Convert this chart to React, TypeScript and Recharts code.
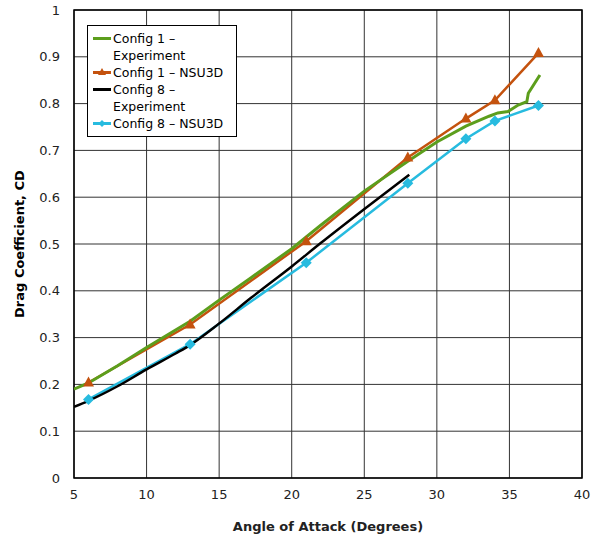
import { LineChart, Line, XAxis, YAxis, CartesianGrid, ReferenceArea, Label } from 'recharts';

// Config 1 – Experiment (green)
const c1ExpAngle = [5, 6, 8, 10, 13, 15, 17.2, 20, 22, 25, 28, 30, 32, 33.6, 34.2, 34.9, 35.6, 36.2, 36.3, 37.1];
const c1ExpCd = [0.19, 0.203, 0.24, 0.279, 0.335, 0.38, 0.428, 0.49, 0.54, 0.613, 0.677, 0.718, 0.752, 0.773, 0.78, 0.783, 0.797, 0.804, 0.822, 0.861];

// Config 1 – NSU3D (orange, triangles)
const c1CfdAngle = [6, 13, 21, 28, 32, 34, 37];
const c1CfdCd = [0.204, 0.328, 0.506, 0.685, 0.768, 0.807, 0.908];

// Config 8 – Experiment (black)
const c8ExpAngle = [5, 6, 8, 10, 12, 13, 15, 17.2, 20, 22, 25.1, 28.1];
const c8ExpCd = [0.152, 0.165, 0.196, 0.232, 0.266, 0.284, 0.33, 0.385, 0.452, 0.502, 0.577, 0.648];

// Config 8 – NSU3D (cyan, diamonds)
const c8CfdAngle = [6, 13, 21, 28, 32, 34, 37];
const c8CfdCd = [0.168, 0.286, 0.46, 0.63, 0.725, 0.763, 0.796];

const xTicks = [5, 10, 15, 20, 25, 30, 35, 40];
const yTicks = [0, 0.1, 0.2, 0.3, 0.4, 0.5, 0.6, 0.7, 0.8, 0.9, 1];

const zip = (xs: number[], ys: number[]) => xs.map((x, i) => ({ x, y: ys[i] }));

const GREEN = '#5c9e1c';
const ORANGE = '#c4520e';
const CYAN = '#27bbdf';

const Triangle = (props: any) => {
  const { cx, cy } = props;
  if (cx == null || cy == null) return null;
  return <polygon points={`${cx},${cy - 6} ${cx + 5.5},${cy + 4} ${cx - 5.5},${cy + 4}`} fill={ORANGE} />;
};

const Diamond = (props: any) => {
  const { cx, cy } = props;
  if (cx == null || cy == null) return null;
  return <polygon points={`${cx},${cy - 5.5} ${cx + 5.5},${cy} ${cx},${cy + 5.5} ${cx - 5.5},${cy}`} fill={CYAN} />;
};

const legendItems = [
  { label: ['Config 1 –', 'Experiment'], color: GREEN, marker: null },
  { label: ['Config 1 – NSU3D'], color: ORANGE, marker: 'tri' },
  { label: ['Config 8 –', 'Experiment'], color: '#000', marker: null },
  { label: ['Config 8 – NSU3D'], color: CYAN, marker: 'dia' },
];

const LegendBox = () => (
  <div
    style={{
      position: 'absolute',
      left: 87,
      top: 25,
      border: '1px solid #000',
      background: '#fff',
      padding: '4px 6px 4px 4px',
      fontFamily: 'DejaVu Sans, sans-serif',
      fontSize: 12.5,
      lineHeight: '17px',
      color: '#000',
      width: 138,
    }}
  >
    {legendItems.map((it, i) => (
      <div key={i} style={{ display: 'flex', alignItems: 'flex-start' }}>
        <svg width={20} height={17} style={{ flex: 'none', marginRight: 1 }}>
          <line x1={1} y1={8.5} x2={19} y2={8.5} stroke={it.color} strokeWidth={3} />
          {it.marker === 'tri' && <polygon points="10,4 14,11 6,11" fill={it.color} />}
          {it.marker === 'dia' && <polygon points="10,5 13.5,8.5 10,12 6.5,8.5" fill={it.color} />}
        </svg>
        <div>
          {it.label.map((l, j) => (
            <div key={j}>{l}</div>
          ))}
        </div>
      </div>
    ))}
  </div>
);

export default function App() {
  const tickStyle = { fill: '#222', fontSize: 13, fontFamily: 'DejaVu Sans, sans-serif' };
  return (
    <div style={{ position: 'absolute', left: 0, top: 0, width: 601, height: 542, background: '#fff' }}>
      <LineChart width={601} height={542} margin={{ top: 10, right: 19, bottom: 0, left: 0 }}>
        <CartesianGrid stroke="#333" strokeWidth={1} />
        <XAxis
          type="number"
          dataKey="x"
          domain={[5, 40]}
          ticks={xTicks}
          allowDataOverflow
          tickLine={false}
          axisLine={false}
          tick={tickStyle}
          tickMargin={6}
          height={64}
        >
          <Label
            value="Angle of Attack (Degrees)"
            position="insideBottom"
            offset={11}
            style={{ fill: '#222', fontSize: 13, fontWeight: 'bold', fontFamily: 'DejaVu Sans, sans-serif' }}
          />
        </XAxis>
        <YAxis
          type="number"
          dataKey="y"
          domain={[0, 1]}
          ticks={yTicks}
          tickLine={false}
          axisLine={false}
          tick={tickStyle}
          tickMargin={8}
          width={74}
        >
          <Label
            value="Drag Coefficient, CD"
            angle={-90}
            position="insideLeft"
            offset={19}
            style={{ fill: '#000', fontSize: 13, fontWeight: 'bold', fontFamily: 'DejaVu Sans, sans-serif', textAnchor: 'middle' }}
          />
        </YAxis>
        <ReferenceArea x1={5} x2={40} y1={0} y2={1} fill="none" stroke="#000" strokeWidth={1.5} ifOverflow="visible" />
        <Line data={zip(c8CfdAngle, c8CfdCd)} dataKey="y" stroke={CYAN} strokeWidth={2.5} dot={<Diamond />} type="linear" isAnimationActive={false} />
        <Line data={zip(c8ExpAngle, c8ExpCd)} dataKey="y" stroke="#000" strokeWidth={2.5} dot={false} type="monotone" isAnimationActive={false} />
        <Line data={zip(c1CfdAngle, c1CfdCd)} dataKey="y" stroke={ORANGE} strokeWidth={2.5} dot={<Triangle />} type="linear" isAnimationActive={false} />
        <Line data={zip(c1ExpAngle, c1ExpCd)} dataKey="y" stroke={GREEN} strokeWidth={3} dot={false} type="linear" isAnimationActive={false} />
      </LineChart>
      <LegendBox />
    </div>
  );
}
